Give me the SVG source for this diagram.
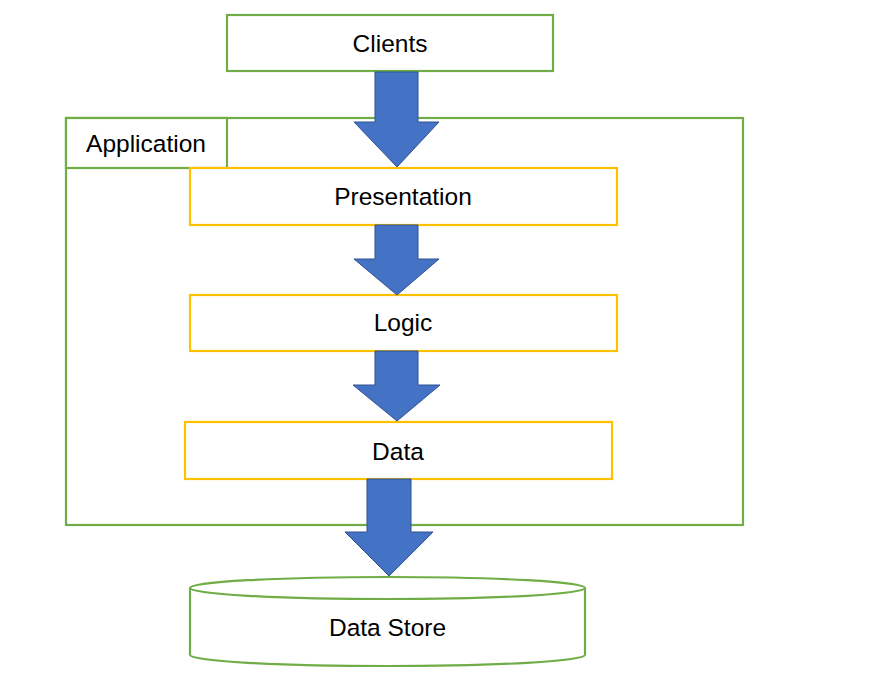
<svg xmlns="http://www.w3.org/2000/svg" width="870" height="700" viewBox="0 0 870 700">
<style>
.g{fill:#fff;stroke:#70AD47;stroke-width:2.2}
.y{fill:#fff;stroke:#FFC000;stroke-width:2.2}
.t{font-family:"Liberation Sans",Arial,sans-serif;font-size:24.5px;fill:#000;text-anchor:middle}
.a{fill:#4472C4;stroke:#2F528F;stroke-width:1}
</style>
<rect width="870" height="700" fill="#fff"/>
<g id="application">
<rect class="g" x="66" y="118" width="677" height="407"/>
<rect class="g" x="66" y="118" width="161" height="50"/>
<text class="t" x="146" y="152">Application</text>
</g>
<g id="clients">
<rect class="g" x="227" y="15" width="326" height="56"/>
<text class="t" x="390" y="52">Clients</text>
</g>
<g id="presentation">
<rect class="y" x="190" y="168" width="427" height="57"/>
<text class="t" x="403" y="205">Presentation</text>
</g>
<g id="logic">
<rect class="y" x="190" y="295" width="427" height="56"/>
<text class="t" x="403" y="331">Logic</text>
</g>
<g id="data">
<rect class="y" x="185" y="422" width="427" height="57"/>
<text class="t" x="398" y="460">Data</text>
</g>
<g id="datastore">
<path class="g" d="M190 588 V655 A197.5 11 0 0 0 585 655 V588"/>
<ellipse class="g" cx="387.5" cy="588" rx="197.5" ry="11"/>
<text class="t" x="387.5" y="636">Data Store</text>
</g>
<g id="connectors">
<polygon class="a" points="375,72 418,72 418,122 439,122 397,167 354,122 375,122"/>
<polygon class="a" points="375,225 418,225 418,259 439,259 397,295 354,259 375,259"/>
<polygon class="a" points="375,351 418,351 418,385 440,385 397,421 353,385 375,385"/>
<polygon class="a" points="367,479 411,479 411,532 433,532 389,576 345,532 367,532"/>
</g>
</svg>
